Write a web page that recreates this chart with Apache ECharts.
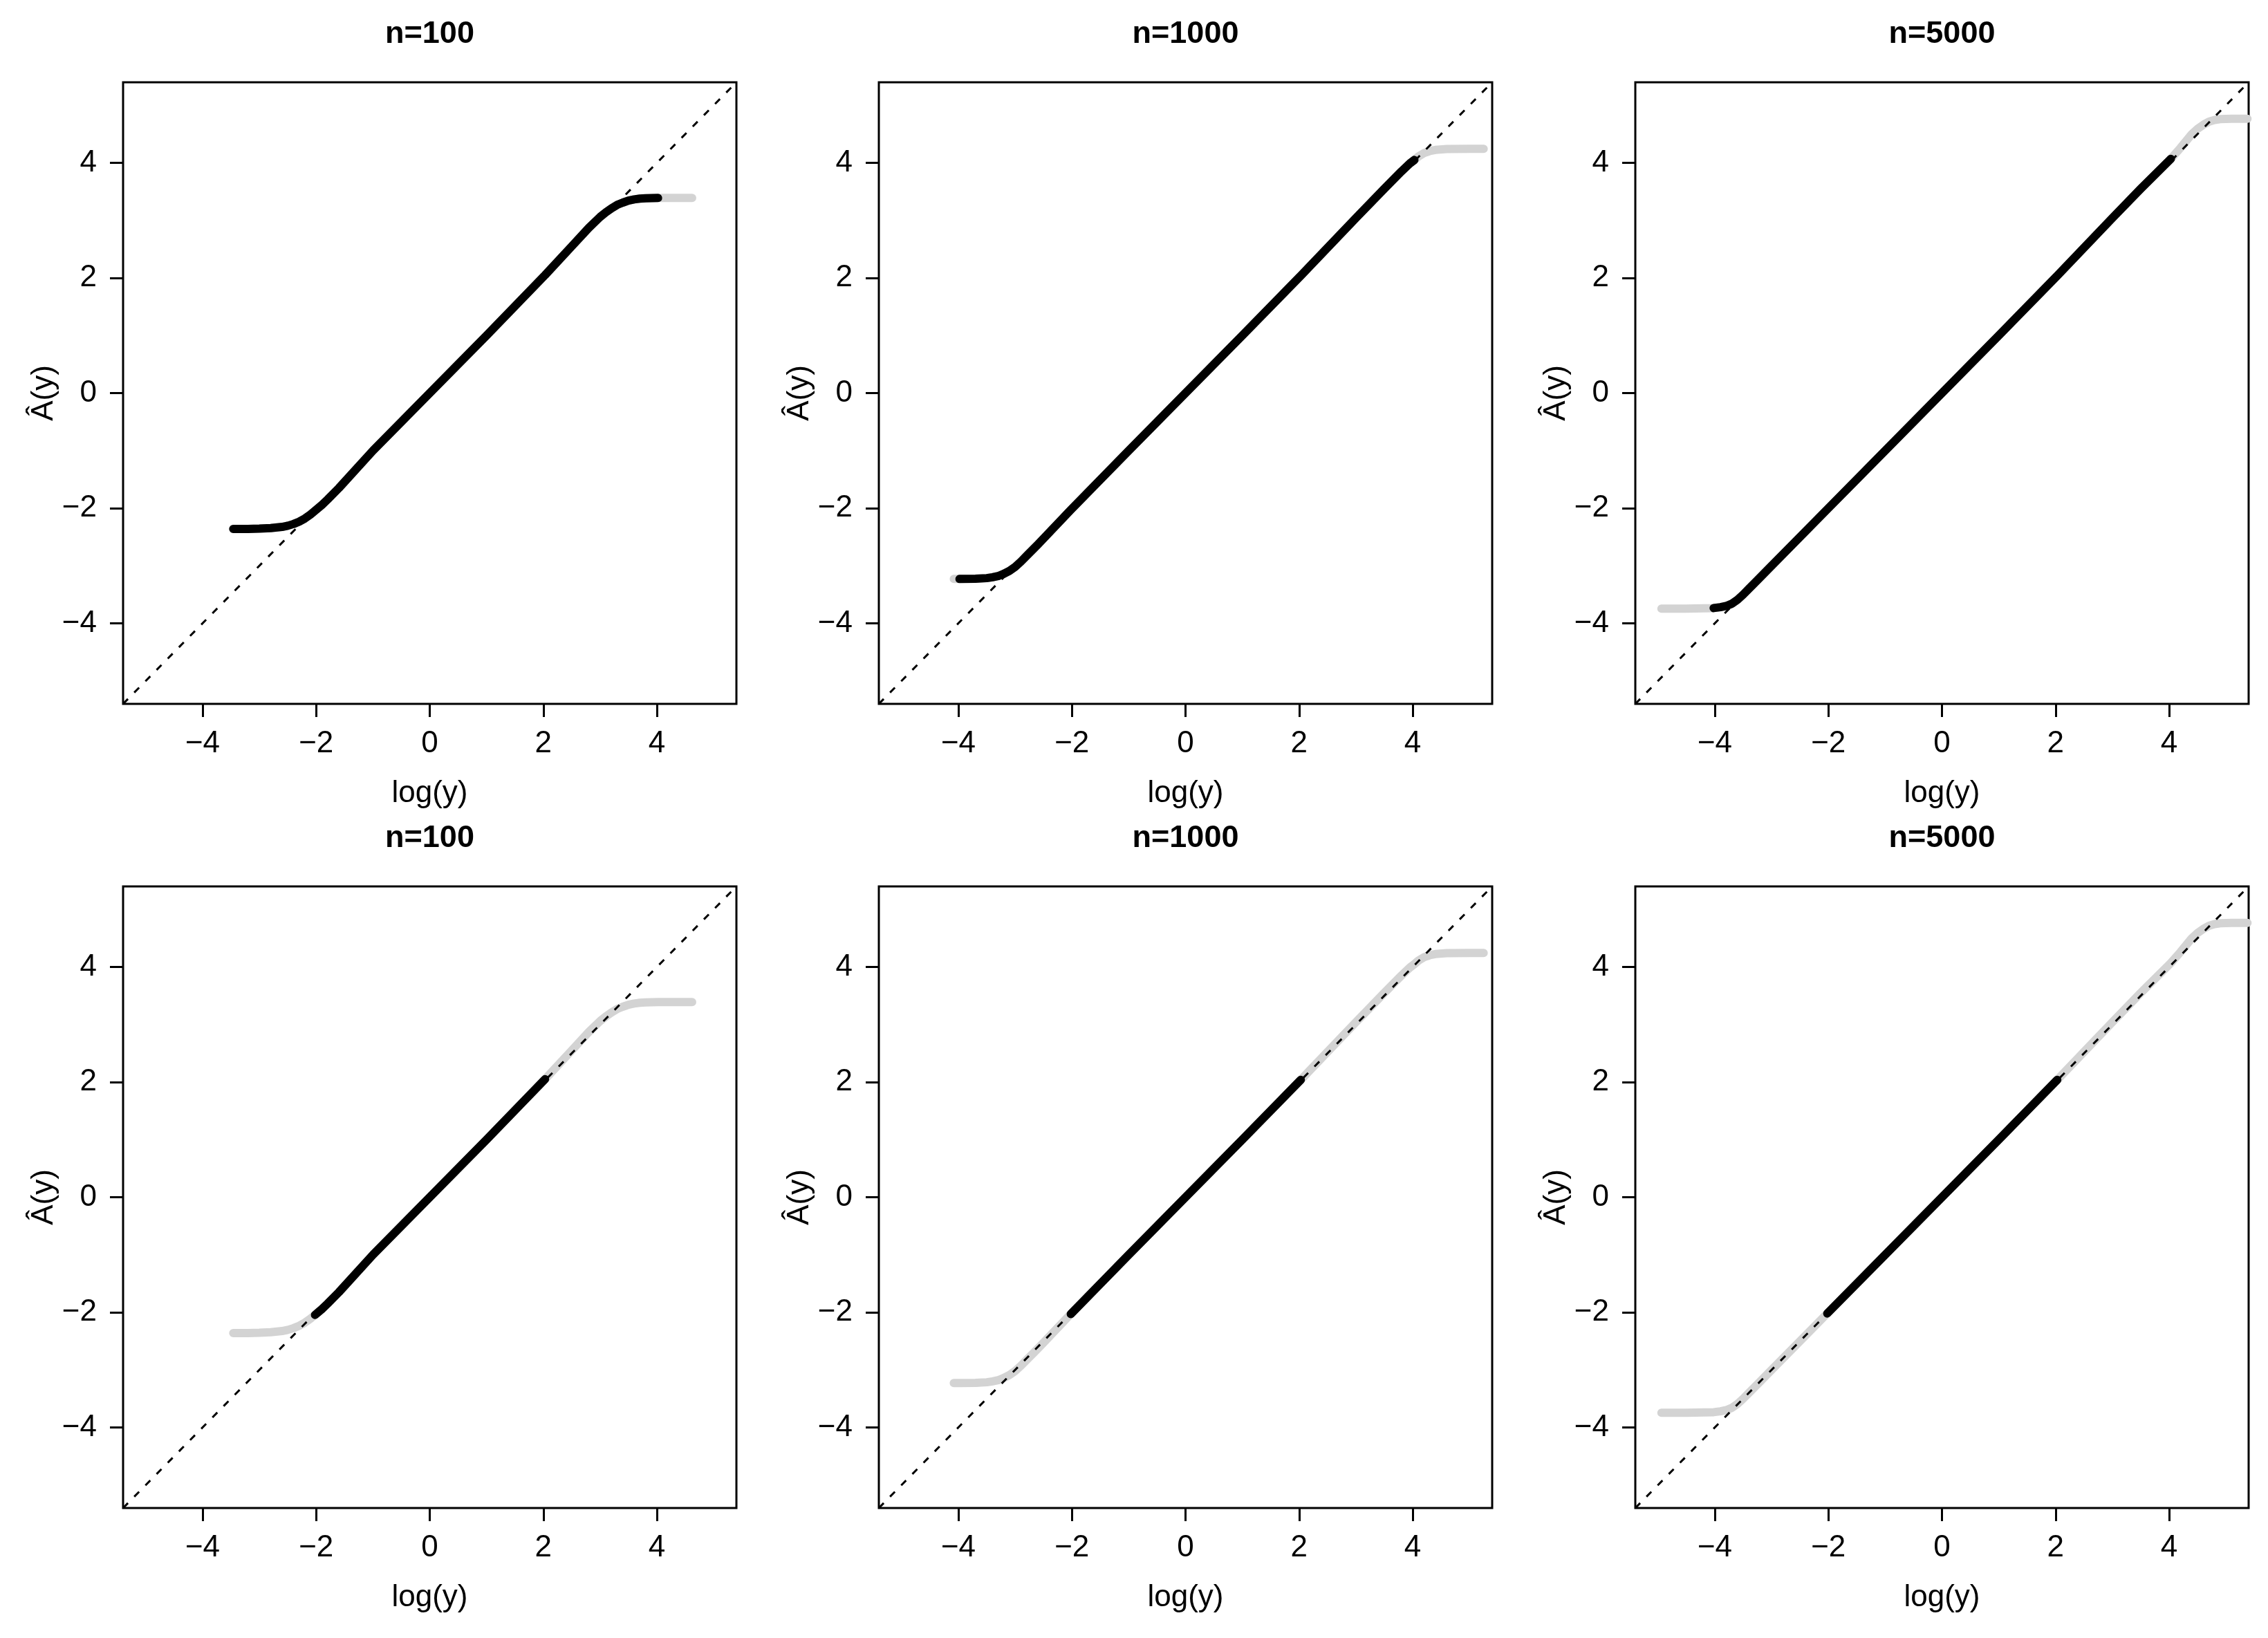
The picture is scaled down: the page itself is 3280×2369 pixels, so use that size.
<!DOCTYPE html>
<html>
<head>
<meta charset="utf-8">
<script src="https://cdn.jsdelivr.net/npm/echarts@6/dist/echarts.min.js"></script>
<style>
html,body{margin:0;padding:0;background:#ffffff;}
#chart{width:3280px;height:2369px;}
</style>
</head>
<body>
<div id="chart"></div>
<script>
// ---------------- data ----------------
const panelTitles = ['n=100', 'n=1000', 'n=5000'];
const tickValues = [-4, -2, 0, 2, 4];
const axisMin = -5.4;
const axisMax = 5.4;
const diagonalX = [-5.4, 5.4];

// estimated curve A-hat(y) vs log(y), n = 100
const curveX_n100 = [-3.46, -3.2, -3.0, -2.8, -2.6, -2.5, -2.4, -2.3, -2.2, -2.1, -2.02, -1.9, -1.8, -1.6, -1.0, 0, 1.0, 2.0, 2.03, 2.5, 2.8, 3.0, 3.1, 3.2, 3.3, 3.4, 3.5, 3.6, 3.7, 3.8, 4.02, 4.3, 4.62];
const curveY_n100 = [-2.36, -2.36, -2.355, -2.345, -2.325, -2.305, -2.275, -2.235, -2.18, -2.11, -2.045, -1.945, -1.85, -1.65, -1.0, 0, 1.0, 2.02, 2.05, 2.55, 2.87, 3.06, 3.14, 3.21, 3.27, 3.31, 3.345, 3.365, 3.378, 3.385, 3.39, 3.39, 3.39];

// n = 1000
const curveX_n1000 = [-4.08, -3.98, -3.7, -3.5, -3.4, -3.3, -3.2, -3.1, -3.0, -2.9, -2.8, -2.6, -2.02, -1.0, 0, 1.0, 2.0, 2.03, 3.0, 3.5, 3.8, 3.95, 4.03, 4.1, 4.2, 4.3, 4.4, 4.6, 5.0, 5.25];
const curveY_n1000 = [-3.23, -3.23, -3.225, -3.215, -3.20, -3.18, -3.14, -3.09, -3.02, -2.93, -2.83, -2.63, -2.03, -1.0, 0, 1.0, 2.01, 2.04, 3.04, 3.55, 3.85, 3.99, 4.05, 4.11, 4.17, 4.205, 4.225, 4.24, 4.245, 4.245];

// n = 5000
const curveX_n5000 = [-4.94, -4.5, -4.2, -4.02, -3.9, -3.8, -3.7, -3.6, -3.5, -3.4, -3.3, -3.0, -2.02, -1.0, 0, 1.0, 2.0, 2.03, 3.0, 3.5, 4.0, 4.03, 4.2, 4.3, 4.4, 4.5, 4.6, 4.7, 4.8, 4.9, 5.1, 5.38];
const curveY_n5000 = [-3.745, -3.745, -3.74, -3.735, -3.72, -3.70, -3.66, -3.59, -3.50, -3.40, -3.30, -3.0, -2.02, -1.0, 0, 1.0, 2.01, 2.04, 3.04, 3.55, 4.04, 4.07, 4.26, 4.38, 4.50, 4.59, 4.66, 4.715, 4.745, 4.76, 4.765, 4.765];

// part of each curve drawn in black (top row, bottom row)
const blackTopFrom = [-3.46, -3.98, -4.02];
const blackTopTo = [4.02, 4.03, 4.03];
const blackBottomFrom = [-2.02, -2.02, -2.02];
const blackBottomTo = [2.03, 2.03, 2.03];

// ---------------- layout ----------------
const colLeft = [178, 1271, 2365];
const rowTop = [119, 1282];
const boxW = 887;
const boxH = 899;
const FONT = 'Liberation Sans, Arial, Helvetica, sans-serif';

const curvesX = [curveX_n100, curveX_n1000, curveX_n5000];
const curvesY = [curveY_n100, curveY_n1000, curveY_n5000];

function pairs(xs, ys) { return xs.map((x, i) => [x, ys[i]]); }
function subset(xs, ys, lo, hi) {
  const out = [];
  xs.forEach((x, i) => { if (x >= lo - 1e-9 && x <= hi + 1e-9) out.push([x, ys[i]]); });
  return out;
}
function fmt(v) { return v < 0 ? '\u2212' + Math.abs(v) : String(v); }

const grids = [], xAxes = [], yAxes = [], series = [], graphics = [];

for (let r = 0; r < 2; r++) {
  for (let c = 0; c < 3; c++) {
    const gi = r * 3 + c;
    grids.push({
      left: colLeft[c], top: rowTop[r], width: boxW, height: boxH,
      show: true, borderColor: '#000', borderWidth: 3,
      backgroundColor: 'rgba(0,0,0,0)', containLabel: false
    });
    xAxes.push({
      gridIndex: gi, type: 'value', min: axisMin, max: axisMax, position: 'bottom',
      axisLine: { show: false, onZero: false },
      axisTick: { show: true, customValues: tickValues, length: 19, lineStyle: { color: '#000', width: 3 } },
      axisLabel: { customValues: tickValues, margin: 36, fontSize: 44, fontFamily: FONT, color: '#000', formatter: fmt },
      splitLine: { show: false },
      name: 'log(y)', nameLocation: 'middle', nameGap: 108,
      nameTextStyle: { fontSize: 44, fontFamily: FONT, color: '#000' }
    });
    yAxes.push({
      gridIndex: gi, type: 'value', min: axisMin, max: axisMax, position: 'left',
      axisLine: { show: false, onZero: false },
      axisTick: { show: true, customValues: tickValues, length: 19, lineStyle: { color: '#000', width: 3 } },
      axisLabel: { customValues: tickValues, margin: 38, fontSize: 44, fontFamily: FONT, color: '#000', formatter: fmt },
      splitLine: { show: false },
      name: '\u00C2(y)', nameLocation: 'middle', nameGap: 86, nameRotate: 90,
      nameTextStyle: { fontSize: 44, fontFamily: FONT, color: '#000' }
    });
    const xs = curvesX[c], ys = curvesY[c];
    series.push({
      type: 'line', xAxisIndex: gi, yAxisIndex: gi, data: pairs(xs, ys),
      symbol: 'none', silent: true, z: 2,
      lineStyle: { color: '#d3d3d3', width: 12, cap: 'round', join: 'round' }
    });
    series.push({
      type: 'line', xAxisIndex: gi, yAxisIndex: gi,
      data: diagonalX.map(v => [v, v]),
      symbol: 'none', silent: true, z: 3,
      lineStyle: { color: '#000', width: 3, type: [10, 13] }
    });
    const lo = r === 0 ? blackTopFrom[c] : blackBottomFrom[c];
    const hi = r === 0 ? blackTopTo[c] : blackBottomTo[c];
    series.push({
      type: 'line', xAxisIndex: gi, yAxisIndex: gi, data: subset(xs, ys, lo, hi),
      symbol: 'none', silent: true, z: 4,
      lineStyle: { color: '#000', width: 12, cap: 'round', join: 'round' }
    });
    graphics.push({
      type: 'text',
      x: colLeft[c] + boxW / 2,
      y: rowTop[r] - 69,
      style: {
        text: panelTitles[c], fill: '#000',
        font: 'bold 45px ' + FONT,
        textAlign: 'center', textVerticalAlign: 'middle',
        align: 'center', verticalAlign: 'middle'
      }
    });
  }
}

const chart = echarts.init(document.getElementById('chart'), null, { renderer: 'canvas' });
chart.setOption({
  animation: false,
  backgroundColor: '#ffffff',
  grid: grids,
  xAxis: xAxes,
  yAxis: yAxes,
  series: series,
  graphic: graphics
});
</script>
</body>
</html>
